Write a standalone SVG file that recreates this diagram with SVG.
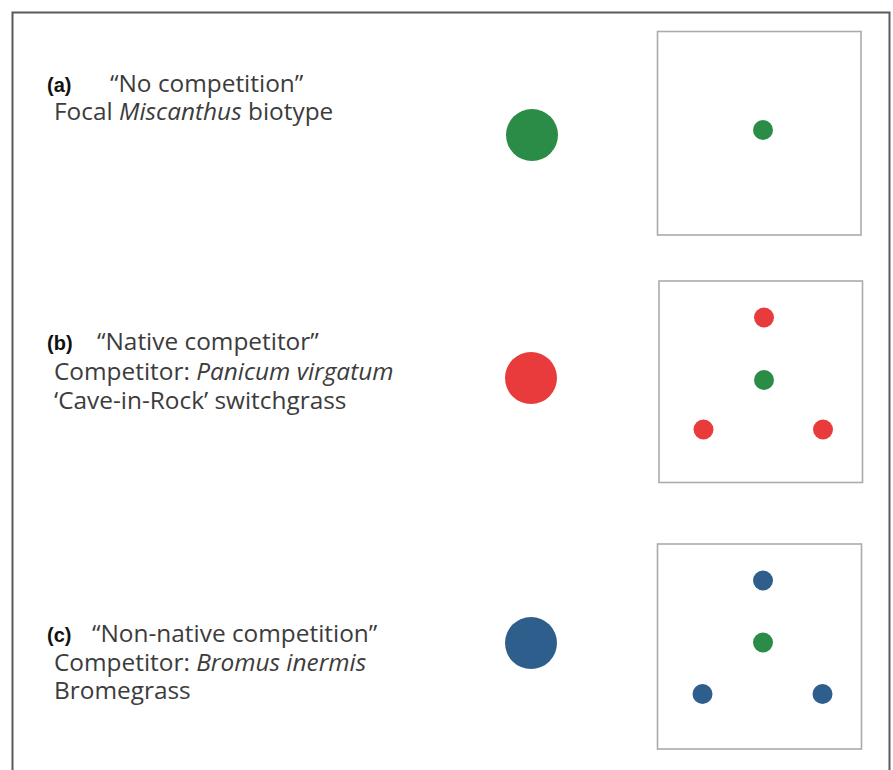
<svg xmlns="http://www.w3.org/2000/svg" width="893" height="770" viewBox="0 0 893 770">
<style>
  .frame { fill: none; stroke: #5a5a5a; stroke-width: 2; }
  .box { fill: #ffffff; stroke: #ababab; stroke-width: 1.6; }
  .lbl { font-family: "Open Sans", "Liberation Sans", sans-serif; font-size: 24.4px; fill: #3c3c3c; }
  .tag { font-family: "Liberation Sans", "Open Sans", sans-serif; font-size: 20px; font-weight: bold; fill: #111111; }
  .it { font-style: italic; }
  .g { fill: #2b8c47; }
  .r { fill: #e93a3c; }
  .b { fill: #2e5f8c; }
</style>
<rect x="0" y="0" width="893" height="770" fill="#ffffff"/>
<rect class="frame" x="12.5" y="12.5" width="877" height="800"/>

<g id="panel-a">
  <text class="tag" x="47" y="92">(a)</text>
  <text class="lbl" x="110" y="92">“No competition”</text>
  <text class="lbl" x="54" y="120">Focal <tspan class="it">Miscanthus</tspan> biotype</text>
  <circle class="g" cx="532" cy="135" r="26"/>
  <rect class="box" x="657.5" y="31.5" width="203.5" height="203.5"/>
  <circle class="g" cx="763" cy="130" r="10"/>
</g>

<g id="panel-b">
  <text class="tag" x="47" y="350">(b)</text>
  <text class="lbl" x="97" y="350">“Native competitor”</text>
  <text class="lbl" x="54" y="380">Competitor: <tspan class="it">Panicum virgatum</tspan></text>
  <text class="lbl" x="54" y="409">‘Cave-in-Rock’ switchgrass</text>
  <circle class="r" cx="531" cy="378" r="26"/>
  <rect class="box" x="659" y="281" width="203.5" height="201.5"/>
  <circle class="r" cx="764" cy="317.5" r="10"/>
  <circle class="g" cx="764" cy="380" r="10"/>
  <circle class="r" cx="703.5" cy="429.5" r="10"/>
  <circle class="r" cx="823" cy="429.5" r="10"/>
</g>

<g id="panel-c">
  <text class="tag" x="47" y="642">(c)</text>
  <text class="lbl" x="92" y="642">“Non-native competition”</text>
  <text class="lbl" x="54" y="671">Competitor: <tspan class="it">Bromus inermis</tspan></text>
  <text class="lbl" x="54" y="699">Bromegrass</text>
  <circle class="b" cx="531" cy="643" r="26"/>
  <rect class="box" x="657.5" y="544" width="204" height="205"/>
  <circle class="b" cx="763" cy="580.5" r="10"/>
  <circle class="g" cx="763" cy="642.5" r="10"/>
  <circle class="b" cx="702.5" cy="694" r="10"/>
  <circle class="b" cx="822.5" cy="694" r="10"/>
</g>
</svg>
